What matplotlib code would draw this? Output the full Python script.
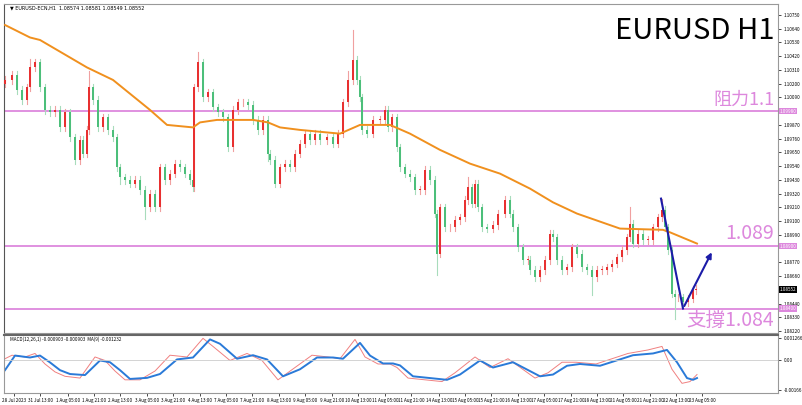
import matplotlib
matplotlib.use("Agg")
import matplotlib.pyplot as plt
from matplotlib.patches import Rectangle

plt.rcParams['font.family'] = ['Noto Sans CJK SC', 'DejaVu Sans']

# bar positions (hour index on the chart scale) and closing prices
bar_x = [5,12,17,22,27,30,35,40,45,50,55,60,65,70,75,80,83,87,89,93,98,103,108,113,117,120,125,130,135,140,
         145,150,155,160,165,170,175,180,185,190,193,194,198,203,208,213,218,223,228,233,238,243,248,253,258,263,268,
         270,275,280,285,290,295,300,305,310,315,320,327,333,338,343,348,353,357,360,362,367,373,380,385,388,392,397,
         400,405,410,415,420,425,430,435,437,440,445,450,455,460,465,468,472,475,478,482,487,493,498,505,510,513,518,
         523,528,530,535,540,545,550,553,557,562,567,572,577,582,587,592,597,602,607,612,617,622,627,630,633,638,643,
         648,653,658,662,665,668,672,675,678,683,688,693,696]
close = [1.1023,1.1027,1.1015,1.1007,1.1017,1.1033,1.1037,1.1017,1.0999,1.0997,1.0999,1.0985,1.0997,1.0977,1.0959,
         1.0975,1.0964,1.0983,1.1017,1.1007,1.0985,1.0993,1.0983,1.0977,1.0953,1.0945,1.0943,1.0940,1.0943,1.0935,
         1.0921,1.0932,1.0921,1.0953,1.0943,1.0948,1.0956,1.0953,1.0948,1.0943,1.0937,1.1017,1.1037,1.1009,1.1013,
         1.1001,1.0997,1.0993,1.0969,1.0999,1.1005,1.1005,1.1003,1.0991,1.0983,1.0991,1.0964,
         1.0959,1.0940,1.0953,1.0956,1.0953,1.0964,1.0972,1.0980,1.0975,1.0980,1.0975,1.0977,1.0972,1.0980,1.1005,
         1.1023,1.1039,1.1023,1.1009,1.0983,1.0980,1.0991,1.0991,1.0999,1.0985,1.0993,1.0969,
         1.0953,1.0948,1.0945,1.0935,1.0935,1.0951,1.0943,1.0916,1.0884,1.0921,1.0905,1.0905,1.0911,1.0913,1.0927,
         1.0937,1.0924,1.0940,1.0921,1.0905,1.0904,1.0907,1.0916,1.0927,1.0916,1.0905,1.0889,
         1.0879,1.0879,1.0871,1.0865,1.0871,1.0879,1.0900,1.0897,1.0879,1.0871,1.0873,1.0889,1.0884,1.0873,1.0871,
         1.0865,1.0871,1.0871,1.0873,1.0876,1.0881,1.0887,1.0897,1.0908,1.0892,1.0900,1.0895,
         1.0895,1.0905,1.0913,1.0919,1.0905,1.0887,1.0852,1.0849,1.0849,1.0845,1.0848,1.0855,1.0856]
first_open = 1.1020
# notable wick extremes, keyed by bar position
high_spikes = {30: 1.1040, 89: 1.1030, 198: 1.1045, 353: 1.1063, 348: 1.1030, 468: 1.0945, 630: 1.0921, 662: 1.0928}
low_spikes = {437: 1.0867, 675: 1.0832, 592: 1.0851, 145: 1.0912, 268: 1.0958, 120: 1.0940}

ma_x = [5,30,40,87,113,150,167,193,200,217,253,268,280,300,340,360,390,410,440,470,500,530,553,577,620,663,670,697]
ma_v = [1.1067,1.1057,1.1055,1.1033,1.1023,1.0999,1.0987,1.0985,1.0989,1.0991,1.0991,1.0989,1.0985,1.0983,1.0980,
        1.0987,1.0987,1.0980,1.0967,1.0956,1.0948,1.0936,1.0925,1.0916,1.0904,1.0903,1.0901,1.0892]

macd_x = [5,15,30,40,50,60,70,85,100,110,120,130,147,160,177,193,210,220,237,253,267,283,300,317,333,343,360,370,
          383,393,400,413,430,447,460,480,493,513,540,553,567,580,600,633,653,667,677,687,693,697]
macd_v = [-0.00055,0.00028,0.00017,0.00028,-0.00011,-0.00055,-0.00077,-0.00083,0.0,-0.0001,-0.00055,-0.00105,
          -0.00099,-0.00077,0.00006,0.00017,0.00120,0.00095,0.0001,0.0003,0.00006,-0.0009,-0.0005,0.00017,0.00017,
          0.0001,0.0010,0.00028,-0.00017,-0.00017,-0.00028,-0.0009,-0.0010,-0.0011,-0.0008,0.0,-0.0004,-0.0001,
          -0.0009,-0.0008,-0.0003,-0.0002,-0.0003,0.0003,0.0004,0.0006,-0.0001,-0.0010,-0.0011,-0.0010]
sig_x = [5,12,25,35,45,55,65,80,95,105,115,125,140,155,170,187,203,213,230,247,262,278,295,312,328,340,355,365,
         378,390,397,408,425,442,455,475,490,508,535,548,562,576,596,628,648,662,672,682,690,697]
sig_v = [0.00010,0.00030,0.00020,0.00040,-0.00020,-0.00065,-0.00090,-0.00100,0.00020,0.0,-0.00060,-0.00110,
         -0.00110,-0.00060,0.00030,0.00020,0.00126,0.00080,0.0,0.0004,0.0,-0.0011,-0.0004,0.0003,0.0002,
         0.0001,0.0012,0.0002,-0.0002,-0.0002,-0.0004,-0.0010,-0.0011,-0.0012,-0.0007,0.0002,-0.0004,0.0001,
         -0.0010,-0.0007,-0.0001,-0.0001,-0.0002,0.0004,0.0006,0.0008,-0.0005,-0.0013,-0.0012,-0.0008]

tick_pos = [14,40,68,94,120,147,173,200,226,252,279,305,332,358,385,411,439,465,491,518,544,571,597,623,650,676,702]
tick_lbl = ["28 Jul 2023","31 Jul 13:00","1 Aug 05:00","1 Aug 21:00","2 Aug 13:00","3 Aug 05:00","3 Aug 21:00",
            "4 Aug 13:00","7 Aug 05:00","7 Aug 21:00","8 Aug 13:00","9 Aug 05:00","9 Aug 21:00","10 Aug 13:00",
            "11 Aug 05:00","11 Aug 21:00","14 Aug 13:00","15 Aug 05:00","15 Aug 21:00","16 Aug 13:00",
            "17 Aug 05:00","17 Aug 21:00","18 Aug 13:00","21 Aug 05:00","21 Aug 21:00","22 Aug 13:00","23 Aug 05:00"]
price_ticks = [1.10750,1.10640,1.10530,1.10420,1.10310,1.10200,1.10090,1.09870,1.09760,1.09650,1.09540,
               1.09430,1.09320,1.09210,1.09100,1.08990,1.08770,1.08660,1.08440,1.08330,1.08220]
resistance, mid_level, support, last_price = 1.09980, 1.08900, 1.08400, 1.08552
arrow_x = [661,683,713]
arrow_y = [1.0928,1.0840,1.0887]

pink = '#dd88dd'
fig = plt.figure(figsize=(8.02, 4.05), dpi=100)
ax = fig.add_axes([4/802, 72/405, 774/802, 329/405])
axm = fig.add_axes([4/802, 12/405, 774/802, 58/405], sharex=ax)

opens = [first_open] + close[:-1]
w = 2.6
for x, o, c in zip(bar_x, opens, close):
    up = c >= o
    col = '#e83030' if up else '#4cbf7a'
    wcol = '#f0a0a0' if up else '#a8dcbc'
    hi = high_spikes.get(x, max(o, c) + 0.0003)
    lo = low_spikes.get(x, min(o, c) - 0.0003)
    ax.plot([x, x], [lo, hi], color=wcol, lw=0.8, zorder=2)
    ax.add_patch(Rectangle((x - w/2, min(o, c)), w, max(abs(c - o), 0.00004), color=col, lw=0, zorder=3))

ax.plot(ma_x, ma_v, color='#f0901e', lw=1.4, zorder=4)
for lvl in (resistance, mid_level, support):
    ax.axhline(lvl, color=pink, lw=1.3, zorder=1)
ax.plot(arrow_x[:2], arrow_y[:2], color='#1c1ca8', lw=1.5, zorder=6)
ax.annotate('', xy=(arrow_x[2], arrow_y[2]), xytext=(arrow_x[1], arrow_y[1]),
            arrowprops=dict(arrowstyle='-|>', color='#1c1ca8', lw=1.5, mutation_scale=8), zorder=6)

ax.set_xlim(4, 778)
ax.set_ylim(1.08204, 1.10838)
ax.yaxis.tick_right()
ax.set_yticks(price_ticks)
ax.set_yticklabels([f"{v:.5f}" for v in price_ticks], fontsize=3.3)
ax.tick_params(axis='y', length=2, width=0.5, pad=2)
ax.tick_params(axis='x', bottom=False, labelbottom=False)
for s in ax.spines.values():
    s.set_color('#999999'); s.set_linewidth(0.8)
ax.spines['left'].set_color('#555555')

for lvl, fc in ((resistance, pink), (mid_level, pink), (support, pink), (last_price, 'black')):
    ax.text(1.002, lvl, f"{lvl:.5f}", transform=ax.get_yaxis_transform(), fontsize=3.3, color='white',
            va='center', ha='left', bbox=dict(boxstyle='square,pad=0.15', fc=fc, ec='none'), clip_on=False)

ax.text(0.995, 0.965, 'EURUSD H1', transform=ax.transAxes, fontsize=21, ha='right', va='top', color='black')
ax.text(0.995, resistance + 0.0002, '阻力1.1', transform=ax.get_yaxis_transform(), fontsize=13, ha='right',
        va='bottom', color=pink)
ax.text(0.995, mid_level + 0.0002, '1.089', transform=ax.get_yaxis_transform(), fontsize=14, ha='right',
        va='bottom', color=pink)
ax.text(0.995, support - 0.0001, '支撐1.084', transform=ax.get_yaxis_transform(), fontsize=14, ha='right',
        va='top', color=pink)
ax.text(0.008, 0.995, '▼ EURUSD-ECN,H1  1.08574 1.08581 1.08549 1.08552', transform=ax.transAxes,
        fontsize=3.5, ha='left', va='top', family=['DejaVu Sans'])

axm.plot(sig_x, sig_v, color='#f08080', lw=0.7)
axm.plot(macd_x, macd_v, color='#2a7ad8', lw=1.4)
axm.axhline(0, color='#cccccc', lw=0.6)
axm.set_ylim(-0.00185, 0.00145)
axm.yaxis.tick_right()
axm.set_yticks([0.001266, 0.0, -0.00166])
axm.set_yticklabels(['0.001266', '0.00', '-0.00166'], fontsize=3.3)
axm.tick_params(axis='y', length=2, width=0.5, pad=2)
axm.set_xticks(tick_pos)
axm.set_xticklabels(tick_lbl, fontsize=3.3)
axm.tick_params(axis='x', length=2, width=0.5, pad=1.5)
for s in axm.spines.values():
    s.set_color('#999999'); s.set_linewidth(0.8)
axm.spines['top'].set_color('#666666'); axm.spines['top'].set_linewidth(1.5)
axm.text(0.008, 0.97, 'MACD(12,26,1) -0.000903 -0.000903  MA(9) -0.001232', transform=axm.transAxes,
         fontsize=3.3, ha='left', va='top')

fig.savefig('out.png', dpi=100)
